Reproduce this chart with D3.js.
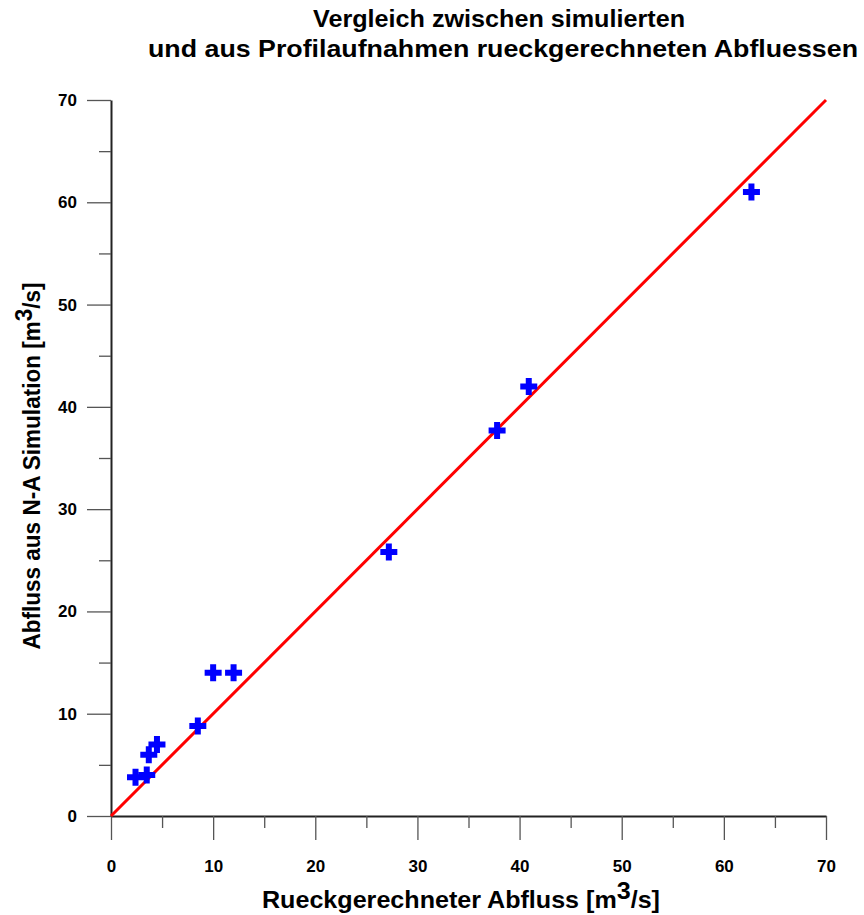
<!DOCTYPE html>
<html>
<head>
<meta charset="utf-8">
<script src="https://cdn.jsdelivr.net/npm/d3@7/dist/d3.min.js"></script>
<style>
  body { margin: 0; background: #fff; }
  text { font-family: "Liberation Sans", Arial, sans-serif; }
</style>
</head>
<body>
<div class="chart"></div>
<script>
// measured (back-calculated) discharge vs simulated discharge, m3/s
const rueckgerechnet = [2.4, 3.5, 3.7, 4.5, 8.5, 10.0, 12.0, 27.2, 37.8, 40.9, 62.7];
const simuliert      = [3.8, 4.0, 6.0, 7.0, 8.8, 14.0, 14.0, 25.8, 37.7, 42.0, 61.0];
const majorTicks = [0, 10, 20, 30, 40, 50, 60, 70];
const minorTicks = [5, 15, 25, 35, 45, 55, 65];
const line1to1 = [0, 70];

const titleLines = ["Vergleich zwischen simulierten", "und aus Profilaufnahmen rueckgerechneten Abfluessen"];

// set the dimensions
const margin = {top: 100, right: 38, bottom: 99, left: 111},
    width = 826 - margin.left,
    height = 816 - margin.top;

const svg = d3.select(".chart")
  .append("svg")
    .attr("width", 864)
    .attr("height", 915)
  .append("g")
    .attr("transform", `translate(${margin.left},${margin.top})`);

const x = d3.scaleLinear().domain([0, 70]).range([0, width]);
const y = d3.scaleLinear().domain([0, 70]).range([height, 0]);

// X axis: major + minor ticks hanging down
svg.append("g")
    .attr("transform", `translate(0, ${height})`)
    .call(d3.axisBottom(x).tickValues(majorTicks).tickSize(24).tickPadding(20).tickSizeOuter(0));
svg.append("g")
    .attr("transform", `translate(0, ${height})`)
    .call(d3.axisBottom(x).tickValues(minorTicks).tickSize(12).tickFormat("").tickSizeOuter(0))
    .select(".domain").remove();

// Y axis
svg.append("g")
    .call(d3.axisLeft(y).tickValues(majorTicks).tickSize(24).tickPadding(10).tickSizeOuter(0));
svg.append("g")
    .call(d3.axisLeft(y).tickValues(minorTicks).tickSize(12).tickFormat("").tickSizeOuter(0))
    .select(".domain").remove();

svg.selectAll(".domain").attr("stroke", "#222").attr("stroke-width", 2);
svg.selectAll(".tick line").attr("stroke", "#555").attr("stroke-width", 1.3);
svg.selectAll(".tick text")
    .attr("font-size", 17)
    .attr("font-weight", "bold")
    .attr("fill", "#000");

// 1:1 line
svg.append("line")
    .attr("x1", x(line1to1[0])).attr("y1", y(line1to1[0]))
    .attr("x2", x(line1to1[1])).attr("y2", y(line1to1[1]))
    .attr("stroke", "#ff0000")
    .attr("stroke-width", 3);

// the crosses
const data = rueckgerechnet.map((d, i) => ({x: d, y: simuliert[i]}));
svg.selectAll(".pt")
  .data(data)
  .join("path")
    .attr("class", "pt")
    .attr("transform", d => `translate(${x(d.x)},${y(d.y)})`)
    .attr("d", "M-3,-8.5H3V-3H8.5V3H3V8.5H-3V3H-8.5V-3H-3Z")
    .attr("fill", "#0000ff");

// title
const root = d3.select(".chart svg");
const titleLen = [372, 710];
root.selectAll(".title")
  .data(titleLines)
  .join("text")
    .attr("class", "title")
    .attr("x", (d, i) => i ? 503 : 499)
    .attr("y", (d, i) => 27 + i * 30)
    .attr("text-anchor", "middle")
    .attr("font-size", 24)
    .attr("font-weight", "bold")
    .attr("textLength", (d, i) => titleLen[i])
    .attr("lengthAdjust", "spacingAndGlyphs")
    .text(d => d);

// axis titles
const xt = root.append("text")
    .attr("x", 461)
    .attr("y", 908)
    .attr("text-anchor", "middle")
    .attr("font-size", 24)
    .attr("font-weight", "bold")
    .attr("textLength", 398)
    .attr("lengthAdjust", "spacingAndGlyphs");
xt.append("tspan").text("Rueckgerechneter Abfluss [m");
xt.append("tspan").attr("dy", -9).text("3");
xt.append("tspan").attr("dy", 9).text("/s]");

const yt = root.append("text")
    .attr("transform", `translate(40, 466) rotate(-90)`)
    .attr("text-anchor", "middle")
    .attr("font-size", 23)
    .attr("font-weight", "bold")
    .attr("textLength", 367)
    .attr("lengthAdjust", "spacingAndGlyphs");
yt.append("tspan").text("Abfluss aus N-A Simulation [m");
yt.append("tspan").attr("dy", -8).text("3");
yt.append("tspan").attr("dy", 8).text("/s]");
</script>
</body>
</html>
